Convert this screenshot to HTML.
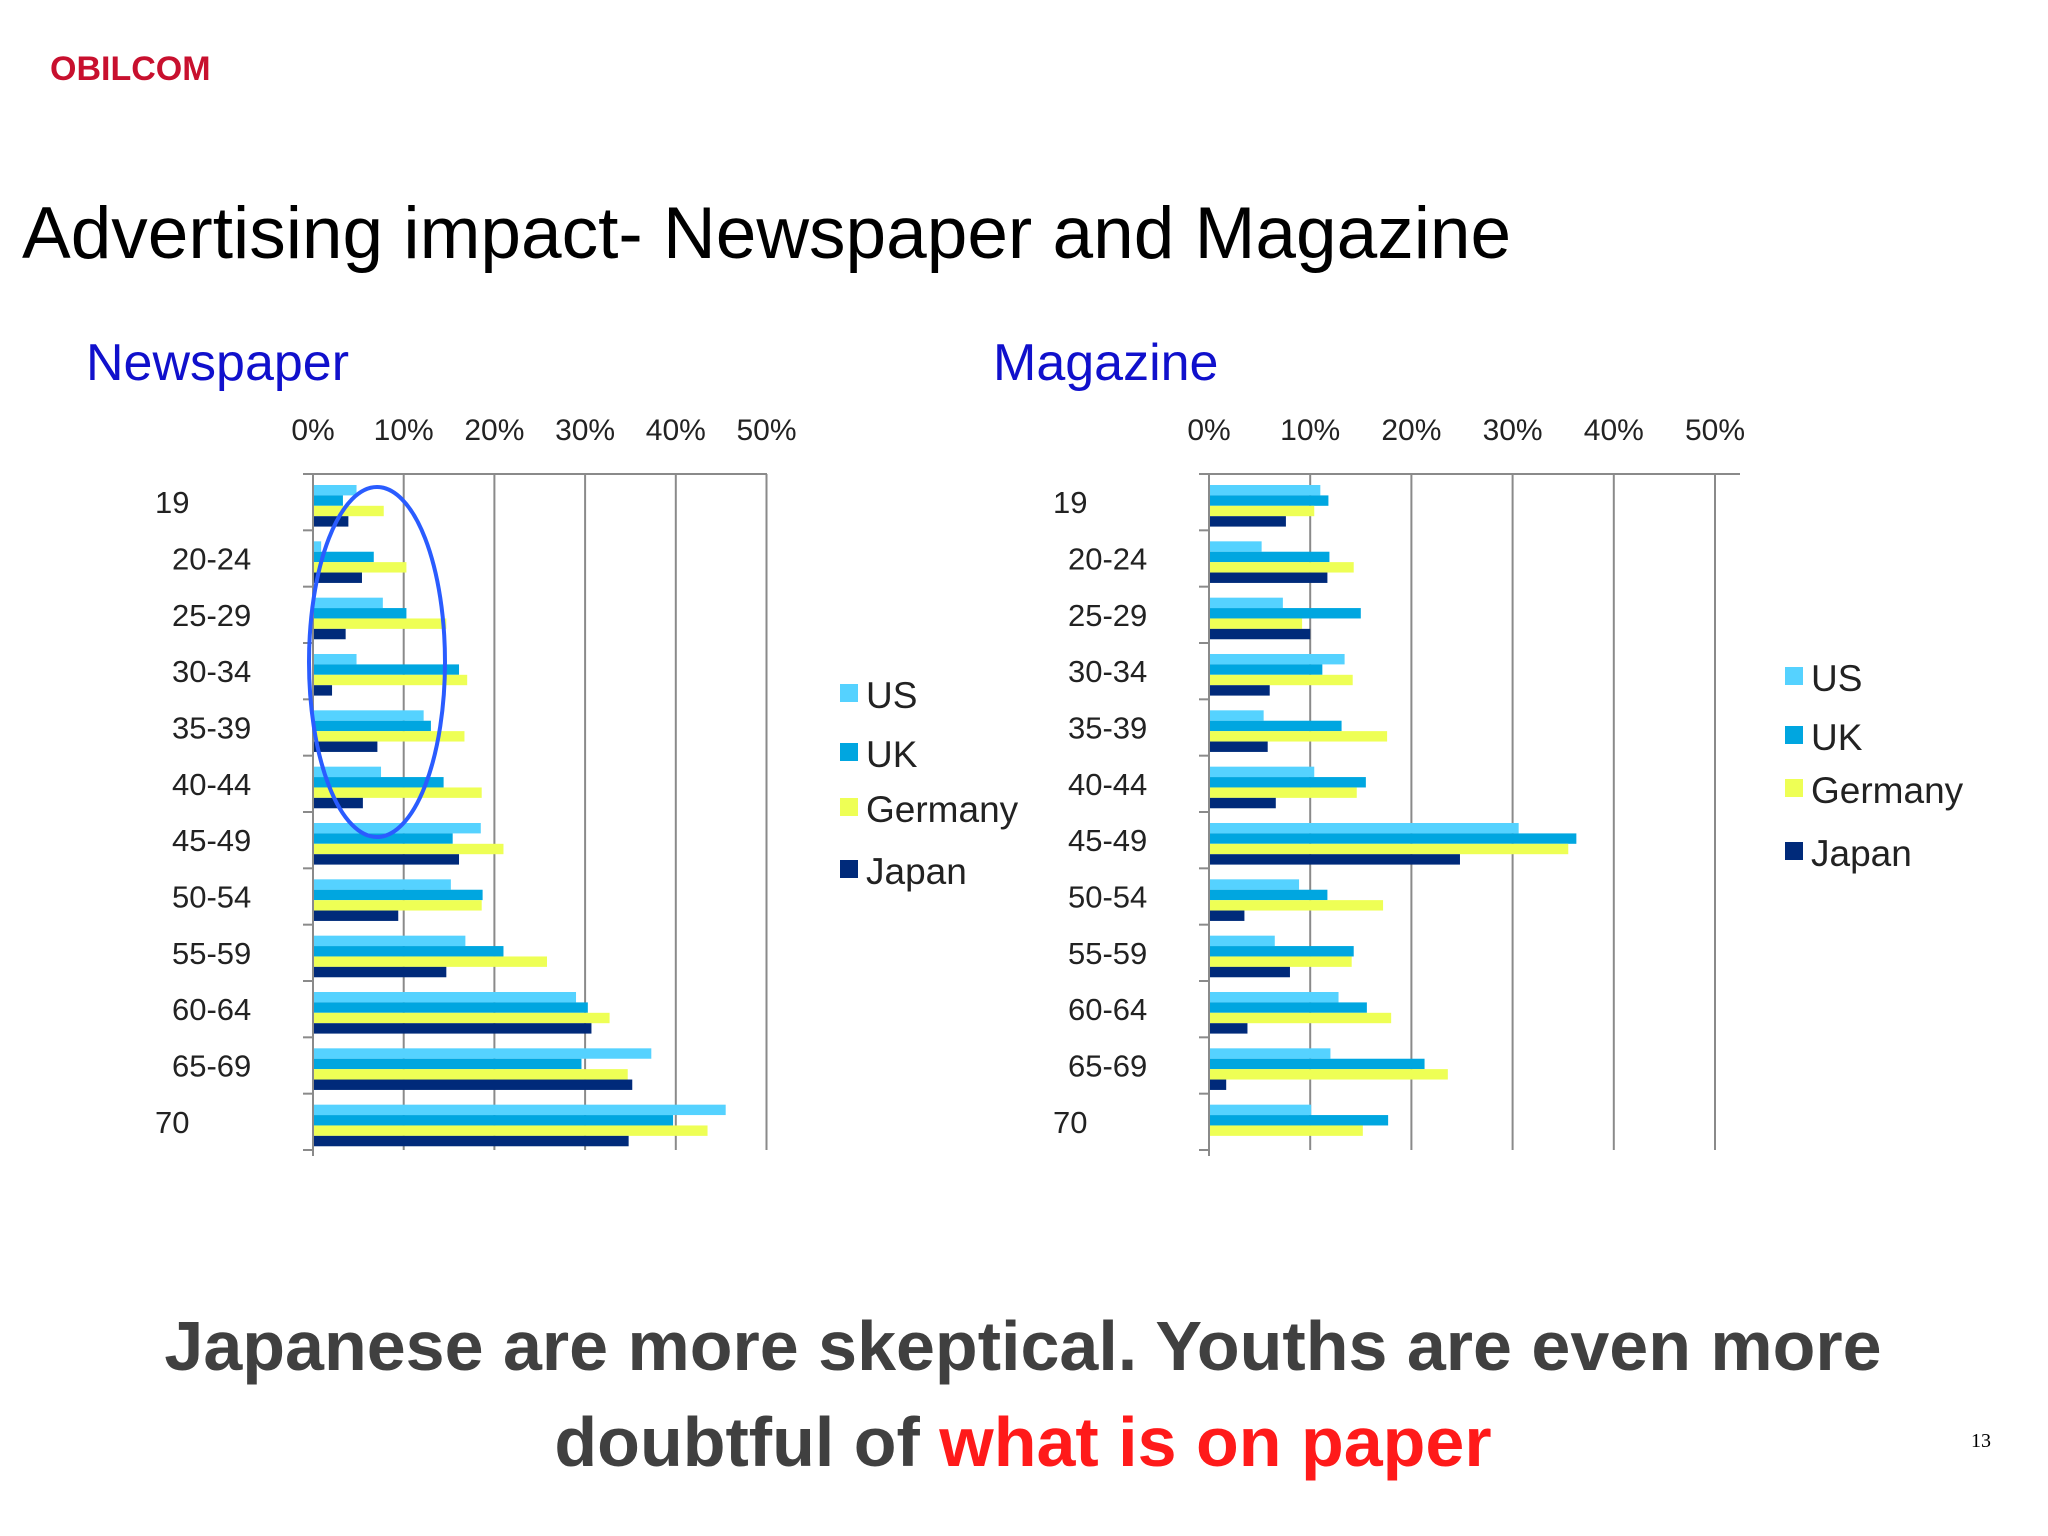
<!DOCTYPE html>
<html><head><meta charset="utf-8"><style>
body{margin:0;background:#fff;}
svg{display:block;font-family:"Liberation Sans","DejaVu Sans",sans-serif;}
</style></head><body>
<svg id="s" width="2048" height="1536" viewBox="0 0 2048 1536" xmlns="http://www.w3.org/2000/svg">
<text x="50" y="80" font-size="34" font-weight="bold" fill="#c8102e">OBILCOM</text>
<text x="22" y="258" font-size="73" fill="#000">Advertising impact- Newspaper and Magazine</text>
<text x="86" y="380" font-size="52" fill="#1010cc">Newspaper</text>
<text x="993" y="380" font-size="52" fill="#1010cc">Magazine</text>
<g id="charts"></g>
<text x="1023" y="1370" font-size="70" font-weight="bold" fill="#404040" text-anchor="middle">Japanese are more skeptical. Youths are even more</text>
<text x="1023" y="1466" font-size="70" font-weight="bold" fill="#404040" text-anchor="middle">doubtful of <tspan fill="#ff1a1a">what is on paper</tspan></text>
<text x="1981" y="1447" font-size="20" fill="#000" text-anchor="middle" font-family="Liberation Serif,serif">13</text>
</svg>
<script>
const categories=["19","20-24","25-29","30-34","35-39","40-44","45-49","50-54","55-59","60-64","65-69","70"];
const seriesNames=["US","UK","Germany","Japan"];
const tickLabels=["0%","10%","20%","30%","40%","50%"];
const newsUS=[4.8,0.9,7.7,4.8,12.2,7.5,18.5,15.2,16.8,29,37.3,45.5];
const newsUK=[3.3,6.7,10.3,16.1,13,14.4,15.4,18.7,21,30.3,29.6,39.7];
const newsDE=[7.8,10.3,14.7,17,16.7,18.6,21,18.6,25.8,32.7,34.7,43.5];
const newsJP=[3.9,5.4,3.6,2.1,7.1,5.5,16.1,9.4,14.7,30.7,35.2,34.8];
const magUS=[11,5.2,7.3,13.4,5.4,10.4,30.6,8.9,6.5,12.8,12,10.1];
const magUK=[11.8,11.9,15,11.2,13.1,15.5,36.3,11.7,14.3,15.6,21.3,17.7];
const magDE=[10.4,14.3,9.2,14.2,17.6,14.6,35.5,17.2,14.1,18,23.6,15.2];
const magJP=[7.6,11.7,10,6,5.8,6.6,24.8,3.5,8,3.8,1.7,0];
const colors=["#55d2ff","#00a6e0","#eeff55","#002a7a"];
const NS="http://www.w3.org/2000/svg";
const root=document.getElementById('charts');
function mk(tag,attrs,parent){const e=document.createElementNS(NS,tag);for(const k in attrs)e.setAttribute(k,attrs[k]);(parent||root).appendChild(e);return e;}
function chart(cfg,series,prefix){
  const g=mk('g',{});
  
  
  const x=v=>cfg.x0+v/10*cfg.unit;
  const top=474,bottom=1150,gh=(bottom-top)/categories.length;
  tickLabels.forEach((t,i)=>{
    const gx=x(i*10);
    const l=mk('line',{x1:gx,x2:gx,y1:top,y2:bottom,stroke:'#8a8a8a','stroke-width':2},g);
    
    
    const tx=mk('text',{x:gx,y:440,'font-size':30,fill:'#222','text-anchor':'middle'},g);
    tx.textContent=t;
    
    
  });
  const ax=mk('line',{x1:cfg.x0-10,x2:cfg.axEnd,y1:top,y2:top,stroke:'#8a8a8a','stroke-width':2},g);
  
  
  categories.forEach((c,i)=>{
    const ty=top+(i+1)*gh;
    const tk=mk('line',{x1:cfg.x0-10,x2:cfg.x0,y1:ty,y2:ty,stroke:'#8a8a8a','stroke-width':2},g);
    
    
    const lx=(c.length<3)?cfg.lab1:cfg.lab2;
    const t=mk('text',{x:lx,y:top+i*gh+gh/2+11,'font-size':31,fill:'#222'},g);
    t.textContent=c;
    
    
    series.forEach((s,j)=>{
      const r=mk('rect',{x:x(0),y:top+i*gh+11+j*10.4,width:Math.max(0,x(s[i])-x(0)),height:10.4,fill:colors[j]},g);
      
      
    });
  });
  seriesNames.forEach((n,j)=>{
    const ly=cfg.legY[j];
    const r=mk('rect',{x:cfg.legX,y:ly-12,width:18,height:18,fill:colors[j]},g);
    
    
    const t=mk('text',{x:cfg.legX+26,y:ly+12,'font-size':37,fill:'#222'},g);
    t.textContent=n;
    
    
  });
  const ax2=mk('line',{x1:cfg.x0,x2:cfg.x0,y1:top,y2:bottom+6,stroke:'#8a8a8a','stroke-width':2},g);
  
  
  return g;
}
chart({x0:313,unit:90.7,axEnd:767,lab1:155,lab2:172,legX:840,legY:[696,755,810,872]},[newsUS,newsUK,newsDE,newsJP],'newspaper');
chart({x0:1209,unit:101.2,axEnd:1740,lab1:1053,lab2:1068,legX:1785,legY:[679,738,791,854]},[magUS,magUK,magDE,magJP],'magazine');
const el=mk('ellipse',{cx:377,cy:662,rx:68,ry:175,fill:'none',stroke:'#2a5cff','stroke-width':4});


</script>
</body></html>
